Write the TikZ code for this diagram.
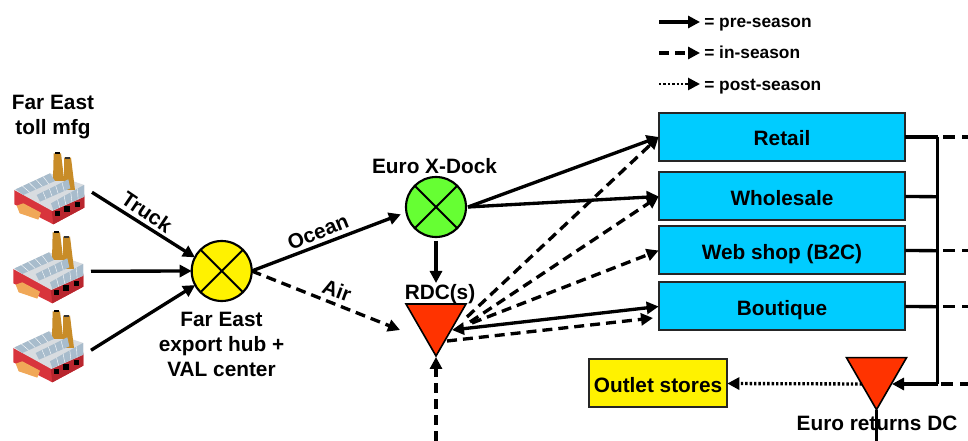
\documentclass[tikz,border=0pt]{standalone}
\usepackage{fontspec}
\setmainfont{Liberation Sans}
\usetikzlibrary{arrows.meta,shapes.geometric,calc}
\definecolor{boxblue}{HTML}{00CCFF}
\definecolor{rdcred}{HTML}{FF3300}
\definecolor{dockgreen}{HTML}{66FF33}
\definecolor{brick}{HTML}{D8343C}
\definecolor{brickdark}{HTML}{B8262E}
\definecolor{stack}{HTML}{C88C28}
\definecolor{glass}{HTML}{A8BCCC}
\definecolor{roofgrey}{HTML}{D8DCE0}
\definecolor{annex}{HTML}{F0A858}
\tikzset{
  x=0.75pt,y=-0.75pt,
  big/.style={font=\bfseries\fontsize{15.6}{18.8}\selectfont,inner sep=0pt,align=center},
  small/.style={font=\bfseries\fontsize{13}{15}\selectfont,inner sep=0pt,anchor=west,text height=10pt,text depth=3pt},
  hubc/.style={circle,draw=black,line width=1.6pt,minimum size=45pt,inner sep=0pt,outer sep=0pt,path picture={
     \draw[line width=1.4pt] (path picture bounding box.center) ++(-16pt,-16pt) -- ++(32pt,32pt);
     \draw[line width=1.4pt] (path picture bounding box.center) ++(-16pt,16pt) -- ++(32pt,-32pt);}},
  tri/.style={regular polygon,regular polygon sides=3,shape border rotate=180,fill=rdcred,draw=black,line width=1.2pt,minimum size=52pt,inner sep=0pt,outer sep=0pt},
  boxn/.style={draw=black!85,line width=1.5pt,minimum width=185pt,minimum height=36pt,inner sep=0pt,outer sep=0pt,fill=boxblue,big,text height=12.8pt,text depth=0pt},
  factoryspot/.style={minimum width=64.5pt,minimum height=52.5pt,inner sep=0pt,outer sep=0pt},
  tipn/.style={-{Triangle[length=9pt,width=9pt]}},
  pre/.style={line width=2.5pt,tipn},
  ins/.style={line width=2.5pt,tipn,dash pattern=on 7.5pt off 4.5pt},
  post/.style={line width=2.5pt,tipn,dash pattern=on 1.8pt off 1.5pt},
  plain/.style={line width=2.5pt},
  plaind/.style={line width=2.5pt,dash pattern=on 9pt off 5.5pt},
  factory/.pic={
    \begin{scope}[scale=1/3]
    % body
    \fill[brick] (28,135)--(145,195)--(238,150)--(238,188)--(145,238)--(28,178)--cycle;
    \fill[brickdark] (140,195)--(238,153)--(238,188)--(145,238)--cycle;
    % roof
    \fill[roofgrey] (28,135)--(135,85)--(238,120)--(238,155)--(142,198)--cycle;
    % chimneys
    \fill[stack] (146,25)--(168,25)--(178,108)--(144,108)--cycle;
    \fill[stack] (177,38)--(198,38)--(210,135)--(178,135)--cycle;
    \fill[black] (150,21) rectangle (165,28);
    \fill[black!80] (180,35) rectangle (195,41);
    % sawtooth glass roofs
    \fill[glass] (32,133)--(135,85)--(150,108)--(55,150)--cycle;
    \fill[glass] (95,150)--(190,103)--(196,130)--(105,170)--cycle;
    \fill[glass] (138,175)--(237,120)--(238,155)--(145,195)--cycle;
    \foreach \i in {0.2,0.4,0.6,0.8}{
      \draw[white,line width=0.3pt] ($(32,133)!\i!(135,85)$) -- ($(55,150)!\i!(150,108)$);
      \draw[white,line width=0.3pt] ($(95,150)!\i!(190,103)$) -- ($(105,170)!\i!(196,130)$);
      \draw[white,line width=0.3pt] ($(138,175)!\i!(237,120)$) -- ($(145,195)!\i!(238,155)$);
    }
    % annex
    \fill[annex] (35,182)--(55,175)--(108,203)--(100,224)--(44,205)--cycle;
    % windows
    \fill[black] (149,197) rectangle (166,214);
    \fill[black] (178,184) rectangle (194,200);
    \fill[black] (209,170) rectangle (225,186);
    \end{scope}
  }
}
\begin{document}
\begin{tikzpicture}
\useasboundingbox (0,0) rectangle (968,441);

% factories
\pic at (5,145) {factory};
\pic at (4,224) {factory};
\pic at (4,303) {factory};
\node[factoryspot] (f1) at (49,187) {};
\node[factoryspot] (f2) at (48,266) {};
\node[factoryspot] (f3) at (48,345) {};

% hubs
\node[hubc,fill=yellow] (hub) at (221.7,271) {};
\node[hubc,fill=dockgreen] (xdock) at (436,207) {};
\node[tri] (rdc) at (436,321.3) {};
\node[tri] (ret) at (876.5,375) {};

% boxes
\node[boxn] (retail) at (782,137) {Retail};
\node[boxn] (wholesale) at (782,196.5) {Wholesale};
\node[boxn] (web) at (782,250.5) {Web shop (B2C)};
\node[boxn] (boutique) at (782,306.5) {Boutique};
\node[draw=black!85,line width=1.5pt,fill=yellow,minimum width=104pt,minimum height=36pt,inner sep=0pt,outer sep=0pt,big,text height=12.8pt,text depth=0pt] (outlet) at (658,383.5) {Outlet stores};

% free ends
\coordinate (airend) at (400,330);
\coordinate (rdcA) at (467,317);
\coordinate (rdcB) at (470,322);
\coordinate (rdcC) at (472,323);
\coordinate (rdcD) at (452,330);
\coordinate (rdcE) at (447,341);
\coordinate (boutE) at (653,318);
\coordinate (botin) at (436,441);
\coordinate (bend) at (436,357);
\coordinate (xdown) at (436,241);
\coordinate (rtop) at (436,283);
\coordinate (xout) at (468,207);
\coordinate (j1) at (937.5,137);
\coordinate (j2) at (937.5,196.7);
\coordinate (j3) at (937.5,250.7);
\coordinate (j4) at (937.5,306.7);
\coordinate (j5) at (937.5,384);
\coordinate (d1) at (943,137);
\coordinate (d3) at (943,250.7);
\coordinate (d4) at (943,306.7);
\coordinate (e1) at (968,137);
\coordinate (e3) at (968,250.7);
\coordinate (e4) at (968,306.7);
\coordinate (e5) at (968,384);
\coordinate (d5) at (941,384);
\coordinate (rin) at (892,384);
\coordinate (rout) at (862,384);
\coordinate (rbot) at (876.5,441);

% connectors: left
\draw[pre] (f1.-7) -- (hub.153);
\draw[pre] (f2.-7) -- (hub.180);
\draw[pre] (f3.-7) -- (hub.208);
\draw[pre,shorten >=4.5pt] (hub.0) -- (xdock.190);
\draw[ins] (hub.0) -- (airend);
\draw[pre] (xdown) -- (rtop);
\draw[pre] (xout) -- (retail.180);
\draw[pre] (xout) -- (wholesale.180);
\draw[ins] (rdcA) -- (retail.180);
\draw[ins] (rdcB) -- (wholesale.180);
\draw[ins] (rdcC) -- (web.180);
\draw[pre,{Triangle[length=9pt,width=9pt]}-{Triangle[length=9pt,width=9pt]}] (rdcD) -- (boutique.180);
\draw[ins] (rdcE) -- (boutE);
\draw[ins] (botin) -- (bend);

% connectors: right
\draw[plain] (retail.east) -- (j1);
\draw[plain] (wholesale.east) -- (j2);
\draw[plain] (web.east) -- (j3);
\draw[plain] (boutique.east) -- (j4);
\draw[line width=2.6pt] (j1) -- (j5);
\draw[plaind] (d1) -- (e1);
\draw[plaind] (d3) -- (e3);
\draw[plaind] (d4) -- (e4);
\draw[plaind,line width=3pt] (d5) -- (e5);
\draw[pre,line width=3pt] (j5) -- (rin);
\draw[post] (rout) -- (outlet.east);
\draw[plain] (ret.south) -- (rbot);

% labels
\node[big] (t1) at (53,117) {Far East\\toll mfg};
\node[big] (t2) at (221.5,344.5) {Far East\\export hub +\\VAL center};
\node[big] (t3) at (434.5,166) {Euro X-Dock};
\node[big] (t4) at (440,294) {RDC(s)};
\node[big] (t5) at (877,423) {Euro returns DC};
\node[big,rotate=-34] (t6) at (147,212) {Truck};
\node[big,rotate=22] (t7) at (318,232) {Ocean};
\node[big,rotate=-20] (t8) at (337,290) {Air};

% legend
\coordinate (la1) at (659,22);
\coordinate (lb1) at (700,22);
\coordinate (la2) at (659,53);
\coordinate (lb2) at (700,53);
\coordinate (la3) at (659,84);
\coordinate (lb3) at (700,84);
\draw[pre] (la1) -- (lb1);
\draw[ins] (la2) -- (lb2);
\draw[post,line width=2pt] (la3) -- (lb3);
\node[small] (l1) at (704,23.3) {= pre-season};
\node[small] (l2) at (704,54.3) {= in-season};
\node[small] (l3) at (704,86) {= post-season};
\end{tikzpicture}
\end{document}
